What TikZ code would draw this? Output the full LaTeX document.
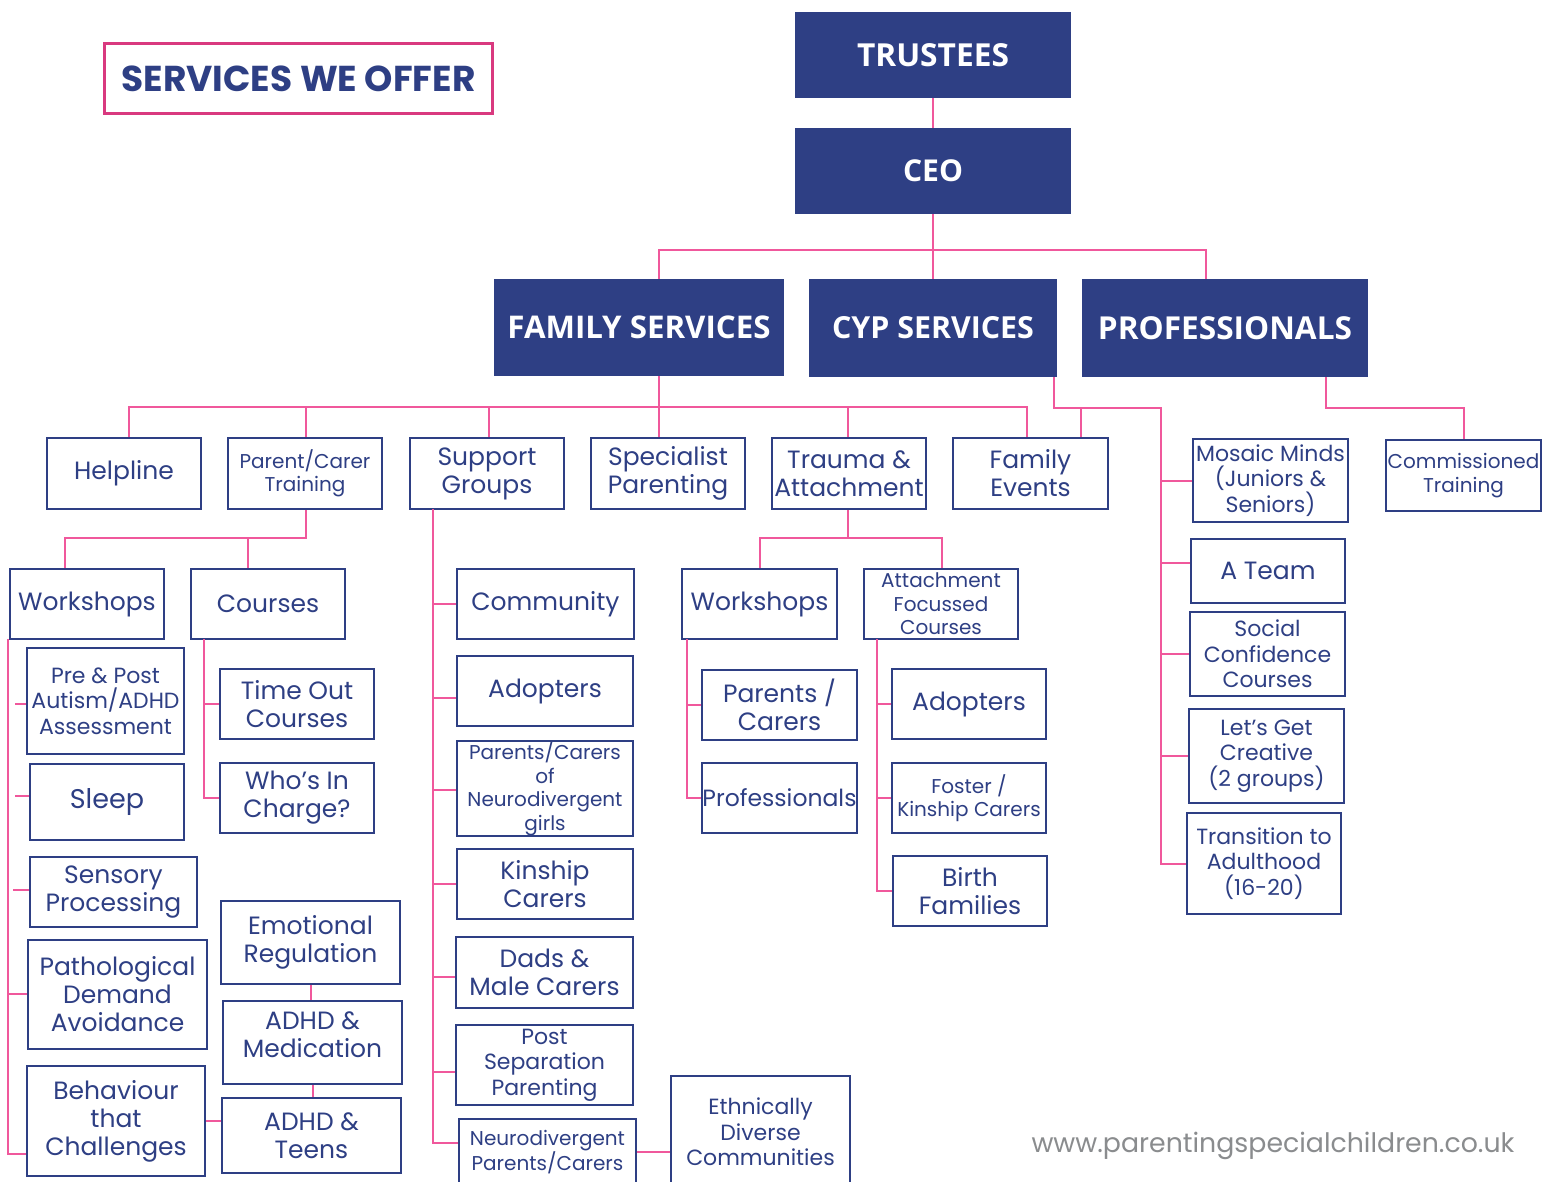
\documentclass[tikz,border=0pt]{standalone}
\usepackage{graphicx}
\usepackage{fontspec}
\setmainfont{Poppins}
\newfontfamily\headfont{Open Sans}
\usetikzlibrary{calc}

\definecolor{navy}{HTML}{2E3F84}
\definecolor{linkpink}{HTML}{F0589C}
\definecolor{framepink}{HTML}{D9397F}
\definecolor{urlgrey}{HTML}{8A8C8E}

\tikzset{
  box/.style={draw=navy, line width=2.2pt, text=navy, align=center, inner sep=0pt,
              font=\fontsize{25}{28}\selectfont},
  smalltext/.style={font=\fontsize{20}{23.5}\selectfont},
  midtext/.style={font=\fontsize{22}{25.5}\selectfont},
  bigtext/.style={font=\fontsize{27}{29}\selectfont},
  widetext/.style={font=\fontsize{23.5}{27}\selectfont},
  headbox/.style={fill=navy, text=white, inner sep=0pt},
  link/.style={draw=linkpink, line width=2pt},
}

% box from corner (x1,y1) to (x2,y2) in pixel units
\newcommand\bx[7][]{%
  \node[box,#1,minimum width={(#5-#3)*1pt},minimum height={(#6-#4)*1pt}]
    (#2) at ({(#3+#5)/2},{(#4+#6)/2}) {#7};}
% filled heading box, text fitted to a given width
\newcommand\hbx[7]{%
  \node[headbox,minimum width={(#5-#3)*1pt},minimum height={(#6-#4)*1pt}]
    (#2) at ({(#3+#5)/2},{(#4+#6)/2}) {\resizebox{#7pt}{!}{\headfont\bfseries #1}};}

\begin{document}
\begin{tikzpicture}[x=1pt,y=-1pt]
\useasboundingbox (0,0) rectangle (1545,1182);
\fill[white] (0,0) rectangle (1545,1182);
\clip (0,0) rectangle (1545,1182);

% title
\node[draw=framepink, line width=2.5pt, minimum width=388pt, minimum height=70pt,
      text=navy, inner sep=0pt] (title) at (298.5,78.5)
      {\resizebox{354pt}{!}{\bfseries SERVICES WE OFFER}};

% management
\hbx{TRUSTEES}{trustees}{795}{12}{1071}{98}{152}
\hbx{CEO}{ceo}{795}{128}{1071}{214}{60}
\hbx{FAMILY SERVICES}{fam}{494}{279}{784}{376}{263}
\hbx{CYP SERVICES}{cyp}{809}{279}{1057}{377}{202}
\hbx{PROFESSIONALS}{prof}{1082}{279}{1368}{377}{254}

% family services
\bx{helpline}{47}{438}{201}{509}{Helpline}
\bx[smalltext]{pct}{228}{438}{382}{509}{Parent/Carer\\Training}
\bx{support}{410}{438}{564}{509}{Support\\Groups}
\bx{specialist}{591}{438}{745}{509}{Specialist\\Parenting}
\bx{trauma}{772}{438}{926}{509}{Trauma \&\\Attachment}
\bx{events}{953}{438}{1108}{509}{Family\\Events}

% parent/carer training
\bx{pwork}{10}{569}{164}{639}{Workshops}
\bx{courses}{191}{569}{345}{639}{Courses}
\bx[midtext]{prepost}{27}{648}{184}{754}{Pre \& Post\\Autism/ADHD\\Assessment}
\bx[bigtext]{sleep}{30}{764}{184}{840}{Sleep}
\bx{sensory}{30}{857}{197}{927}{Sensory\\Processing}
\bx{pda}{28}{940}{207}{1049}{Pathological\\Demand\\Avoidance}
\bx{behav}{27}{1066}{205}{1176}{Behaviour\\that\\Challenges}
\bx{timeout}{220}{669}{374}{739}{Time Out\\Courses}
\bx{whos}{220}{763}{374}{833}{Who’s In\\Charge?}
\bx{emot}{221}{901}{400}{984}{Emotional\\Regulation}
\bx{adhdmed}{223}{1001}{402}{1084}{ADHD \&\\Medication\\[-12pt]\mbox{}}
\bx{adhdteen}{222}{1098}{401}{1173}{ADHD \&\\Teens}

% support groups
\bx{community}{457}{569}{634}{639}{Community}
\bx{sadopt}{457}{656}{633}{726}{Adopters}
\bx[smalltext]{girls}{457}{742}{633}{835}{Parents/Carers\\of\\Neurodivergent\\girls}
\bx{kinship}{457}{849}{633}{919}{Kinship\\Carers}
\bx{dads}{456}{937}{633}{1008}{Dads \&\\Male Carers}
\bx[midtext]{postsep}{456}{1025}{633}{1105}{Post\\Separation\\Parenting}
\bx[smalltext]{ndparents}{459}{1119}{636}{1185}{Neurodivergent\\Parents/Carers}
\bx[midtext]{ethnic}{671}{1076}{850}{1188}{Ethnically\\Diverse\\Communities}

% trauma & attachment
\bx{tworkshops}{682}{569}{837}{639}{Workshops}
\bx[smalltext]{afc}{864}{569}{1018}{639}{Attachment\\Focussed\\Courses}
\bx{tparents}{702}{670}{857}{740}{Parents /\\Carers}
\bx[widetext]{tprof}{702}{763}{857}{833}{Professionals}
\bx{aadopt}{892}{669}{1046}{739}{Adopters}
\bx[smalltext]{foster}{892}{763}{1046}{833}{Foster /\\Kinship Carers}
\bx{birth}{893}{856}{1047}{926}{Birth\\Families}

% CYP services
\bx[midtext]{mosaic}{1193}{439}{1348}{522}{Mosaic Minds\\(Juniors \&\\Seniors)}
\bx{ateam}{1191}{539}{1345}{603}{A Team}
\bx[midtext]{social}{1190}{612}{1345}{696}{Social\\Confidence\\Courses}
\bx[midtext]{creative}{1189}{709}{1344}{803}{Let’s Get\\Creative\\(2 groups)}
\bx[midtext]{transition}{1187}{813}{1341}{914}{Transition to\\Adulthood\\(16-20)}

% professionals
\bx[smalltext]{commissioned}{1386}{440}{1541}{511}{Commissioned\\Training}

% website
\node[text=urlgrey, inner sep=0pt] (web) at (1273,1146)
  {\resizebox{483pt}{!}{www.parentingspecialchildren.co.uk}};

% ---------- connectors ----------
\draw[link] (trustees) -- (ceo);
\coordinate (cbus) at (933,250);
\coordinate (famdrop) at (659,250);
\coordinate (profdrop) at (1206,250);
\draw[link] (ceo.south) -- (cbus);
\draw[link] (famdrop |- fam.north) -- (famdrop) -- (profdrop) -- (profdrop |- prof.north);
\draw[link] (cbus) -- (cbus |- cyp.north);

% family services bus
\coordinate (fbus) at (659,407);
\coordinate (fb1) at (129,407);
\coordinate (fb2) at (306,407);
\coordinate (fb3) at (489,407);
\coordinate (fb5) at (848,407);
\coordinate (fb6) at (1027,407);
\draw[link] (fbus |- fam.south) -- (fbus);
\draw[link] (fb1 |- helpline.north) -- (fb1) -- (fb6) -- (fb6 |- events.north);
\draw[link] (fb2) -- (fb2 |- pct.north);
\draw[link] (fb3) -- (fb3 |- support.north);
\draw[link] (fbus) -- (fbus |- specialist.north);
\draw[link] (fb5) -- (fb5 |- trauma.north);

% CYP bus
\coordinate (cy1) at (1054,408);
\coordinate (cy2) at (1161,408);
\coordinate (cy3) at (1081,408);
\draw[link] (cy1 |- cyp.south) -- (cy1) -- (cy2) -- (cy2 |- transition.west) -- (transition.west);
\draw[link] (cy3) -- (cy3 |- events.north);
\draw[link] (cy2 |- mosaic.west) -- (mosaic.west);
\coordinate (atick) at (1161,563);
\draw[link] (atick) -- (atick -| ateam.west);
\draw[link] (cy2 |- social.west) -- (social.west);
\draw[link] (cy2 |- creative.west) -- (creative.west);

% professionals bus
\coordinate (pr1) at (1326,408);
\coordinate (pr2) at (1464,408);
\draw[link] (pr1 |- prof.south) -- (pr1) -- (pr2) -- (pr2 |- commissioned.north);

% parent/carer training branches
\coordinate (pb) at (306,538);
\coordinate (pb1) at (65,538);
\coordinate (pb2) at (248,538);
\draw[link] (pb |- pct.south) -- (pb) -- (pb1) -- (pb1 |- pwork.north);
\draw[link] (pb2) -- (pb2 |- courses.north);

% workshops list
\coordinate (wtop) at (8,639);
\coordinate (wbot) at (8,1154);
\draw[link] (wtop) -- (wbot) -- (wbot -| behav.west);
\coordinate (w1) at (15,704);
\coordinate (w2) at (15,796);
\coordinate (w3) at (13,890);
\coordinate (w4) at (8,994);
\draw[link] (w1) -- (w1 -| prepost.west);
\draw[link] (w2) -- (w2 -| sleep.west);
\draw[link] (w3) -- (w3 -| sensory.west);
\draw[link] (w4) -- (w4 -| pda.west);

% courses list
\coordinate (cv) at (204,639);
\draw[link] (cv) -- (cv |- whos.west) -- (whos.west);
\draw[link] (cv |- timeout.west) -- (timeout.west);
\draw[link] (emot.south) -- (emot.south |- adhdmed.north);
\draw[link] (adhdmed.south) -- (adhdmed.south |- adhdteen.north);
\draw[link] (behav.east) -- (behav.east -| adhdteen.west);

% support groups list
\coordinate (sv) at (433,509);
\coordinate (s1) at (433,604);
\coordinate (s2) at (433,698);
\coordinate (s3) at (433,790);
\coordinate (s4) at (433,884);
\coordinate (s5) at (433,977);
\coordinate (s6) at (433,1072);
\coordinate (s7) at (433,1143);
\draw[link] (sv) -- (s7) -- (s7 -| ndparents.west);
\draw[link] (s1) -- (s1 -| community.west);
\draw[link] (s2) -- (s2 -| sadopt.west);
\draw[link] (s3) -- (s3 -| girls.west);
\draw[link] (s4) -- (s4 -| kinship.west);
\draw[link] (s5) -- (s5 -| dads.west);
\draw[link] (s6) -- (s6 -| postsep.west);
\draw[link] (ndparents.east) -- (ndparents.east -| ethnic.west);

% trauma & attachment branches
\coordinate (tb) at (848,538);
\coordinate (tb1) at (760,538);
\coordinate (tb2) at (942,538);
\draw[link] (tb |- trauma.south) -- (tb) -- (tb1) -- (tb1 |- tworkshops.north);
\draw[link] (tb) -- (tb2) -- (tb2 |- afc.north);
\coordinate (tv) at (687,639);
\draw[link] (tv) -- (tv |- tprof.west) -- (tprof.west);
\draw[link] (tv |- tparents.west) -- (tparents.west);
\coordinate (av) at (877,639);
\draw[link] (av) -- (av |- birth.west) -- (birth.west);
\draw[link] (av |- aadopt.west) -- (aadopt.west);
\draw[link] (av |- foster.west) -- (foster.west);
\end{tikzpicture}
\end{document}
